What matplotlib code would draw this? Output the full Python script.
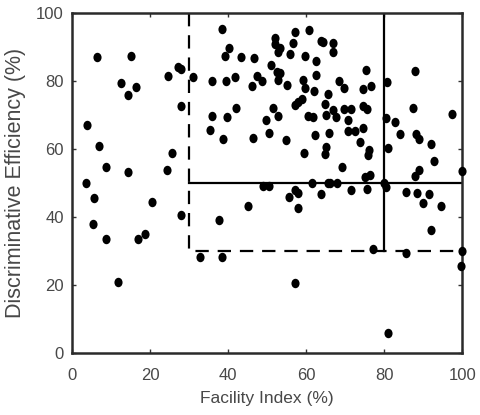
import matplotlib
matplotlib.use("Agg")
import matplotlib.pyplot as plt
from matplotlib.path import Path
from matplotlib.transforms import Affine2D

plt.rcParams['font.family'] = ['Liberation Sans', 'DejaVu Sans']

# facility index (%) and discriminative efficiency (%)
facility = [
    6.3, 15.2, 12.6, 16.3, 14.4, 24.5, 27.2, 28.0, 31.0, 28.0,
    3.8, 6.8, 25.7, 8.8, 14.4, 24.2, 3.5, 5.6, 5.4, 8.6,
    11.8, 16.9, 18.6, 20.4, 27.9, 32.9, 38.5, 37.7, 45.2, 48.8,
    50.5, 55.6, 57.2, 57.9, 57.8, 57.2, 61.6, 63.8, 65.6, 66.1,
    67.9, 71.6, 75.1, 76.3, 75.5, 80.0, 80.4, 77.0, 85.6, 81.0,
    85.6, 88.3, 90.0, 91.5, 94.5, 92.0, 87.9, 89.0, 100.0, 100.0,
    99.7, 64.4, 66.9, 66.9, 75.3, 68.5, 69.7, 74.6, 76.5, 65.6,
    64.8, 66.8, 67.6, 65.2, 69.7, 71.5, 74.6, 75.5, 70.8, 65.9,
    70.8, 72.5, 74.5, 73.9, 65.1, 64.8, 76.2, 75.9, 69.1, 80.6,
    87.9, 87.4, 80.4, 82.7, 84.0, 88.1, 89.0, 92.1, 92.8, 97.5,
    81.0, 38.5, 40.3, 39.2, 43.2, 46.7, 35.9, 39.4, 41.7, 46.0,
    47.5, 48.6, 50.9, 52.0, 52.0, 53.3, 52.8, 56.7, 57.1, 55.8,
    60.8, 59.7, 62.5, 63.7, 52.4, 53.4, 52.8, 55.0, 59.2, 59.7,
    62.5, 62.0, 57.1, 57.9, 58.8, 41.9, 35.9, 39.8, 35.3, 38.6,
    46.4, 51.4, 52.8, 49.7, 50.4, 54.8, 60.5, 61.8, 62.2, 59.5,
]
efficiency = [
    87.2, 87.4, 79.4, 78.2, 75.9, 81.5, 84.3, 83.6, 81.3, 72.8,
    67.1, 60.9, 58.7, 54.8, 53.3, 53.8, 50.1, 45.7, 37.9, 33.5,
    20.9, 33.5, 34.9, 44.3, 40.6, 28.2, 28.3, 39.1, 43.3, 49.1,
    49.1, 45.8, 47.9, 47.0, 42.5, 20.4, 50.1, 46.7, 49.9, 49.9,
    50.1, 47.9, 51.9, 52.4, 48.1, 50.1, 48.7, 30.6, 29.3, 5.7,
    47.3, 47.0, 44.0, 46.7, 43.2, 36.3, 52.2, 53.8, 53.5, 30.0,
    25.5, 91.6, 91.3, 88.7, 83.3, 80.1, 77.9, 77.6, 78.6, 76.2,
    73.2, 71.5, 69.4, 70.0, 71.8, 71.7, 72.7, 71.8, 68.6, 64.6,
    65.3, 65.3, 66.3, 62.2, 60.7, 58.5, 59.7, 58.2, 54.8, 79.9,
    83.1, 72.0, 69.2, 68.1, 64.4, 64.3, 62.9, 61.5, 56.6, 70.3,
    60.2, 95.3, 89.7, 87.5, 87.2, 86.7, 80.1, 80.1, 81.3, 78.6,
    81.5, 80.1, 84.8, 92.8, 90.9, 89.7, 88.7, 91.2, 94.4, 87.9,
    95.1, 87.4, 85.9, 91.8, 82.8, 82.5, 80.3, 78.9, 80.3, 77.9,
    81.8, 77.0, 73.0, 74.0, 74.7, 72.0, 69.7, 69.5, 65.6, 62.9,
    63.3, 72.0, 69.7, 68.6, 64.6, 62.7, 69.7, 69.5, 64.1, 58.9,
]

# reference boxes
box_x = [30, 30, 100]
box_y = [100, 30, 30]
inner_x = [30, 100]
inner_y = [50, 50]
cut_x = [80, 80]
cut_y = [100, 30]

# dots in the original are a bit taller than wide
dot = Path.unit_circle().transformed(Affine2D().scale(1, 1.16))

fig = plt.figure(figsize=(4.81, 4.15), dpi=100)
ax = fig.add_axes([0.150, 0.150, 0.811, 0.818])

ax.plot(box_x, box_y, color='black', lw=1.6, ls=(0, (6, 4)), zorder=2)
ax.plot(inner_x, inner_y, color='black', lw=1.6, zorder=2)
ax.plot(cut_x, cut_y, color='black', lw=1.6, zorder=2)
ax.plot(facility, efficiency, ls='none', marker=dot, color='black', ms=6.8, mew=0,
        zorder=3, clip_on=False)

ax.set_xlim(0, 100)
ax.set_ylim(0, 100)
ax.set_xticks([0, 20, 40, 60, 80, 100])
ax.set_yticks([0, 20, 40, 60, 80, 100])
ax.tick_params(direction='in', length=3, width=1, top=True, right=True,
               labelsize=12, labelcolor='#484848', color='#333333')
ax.tick_params(axis='x', pad=11)
ax.tick_params(axis='y', pad=6)
for s in ax.spines.values():
    s.set_linewidth(1.8)
    s.set_color('#2a2a2a')

ax.set_xlabel('Facility Index (%)', fontsize=12.5, color='#484848', labelpad=6)
ax.set_ylabel('Discriminative Efficiency (%)', fontsize=15.5, color='#484848', labelpad=7)

fig.savefig('out.png', dpi=100)
